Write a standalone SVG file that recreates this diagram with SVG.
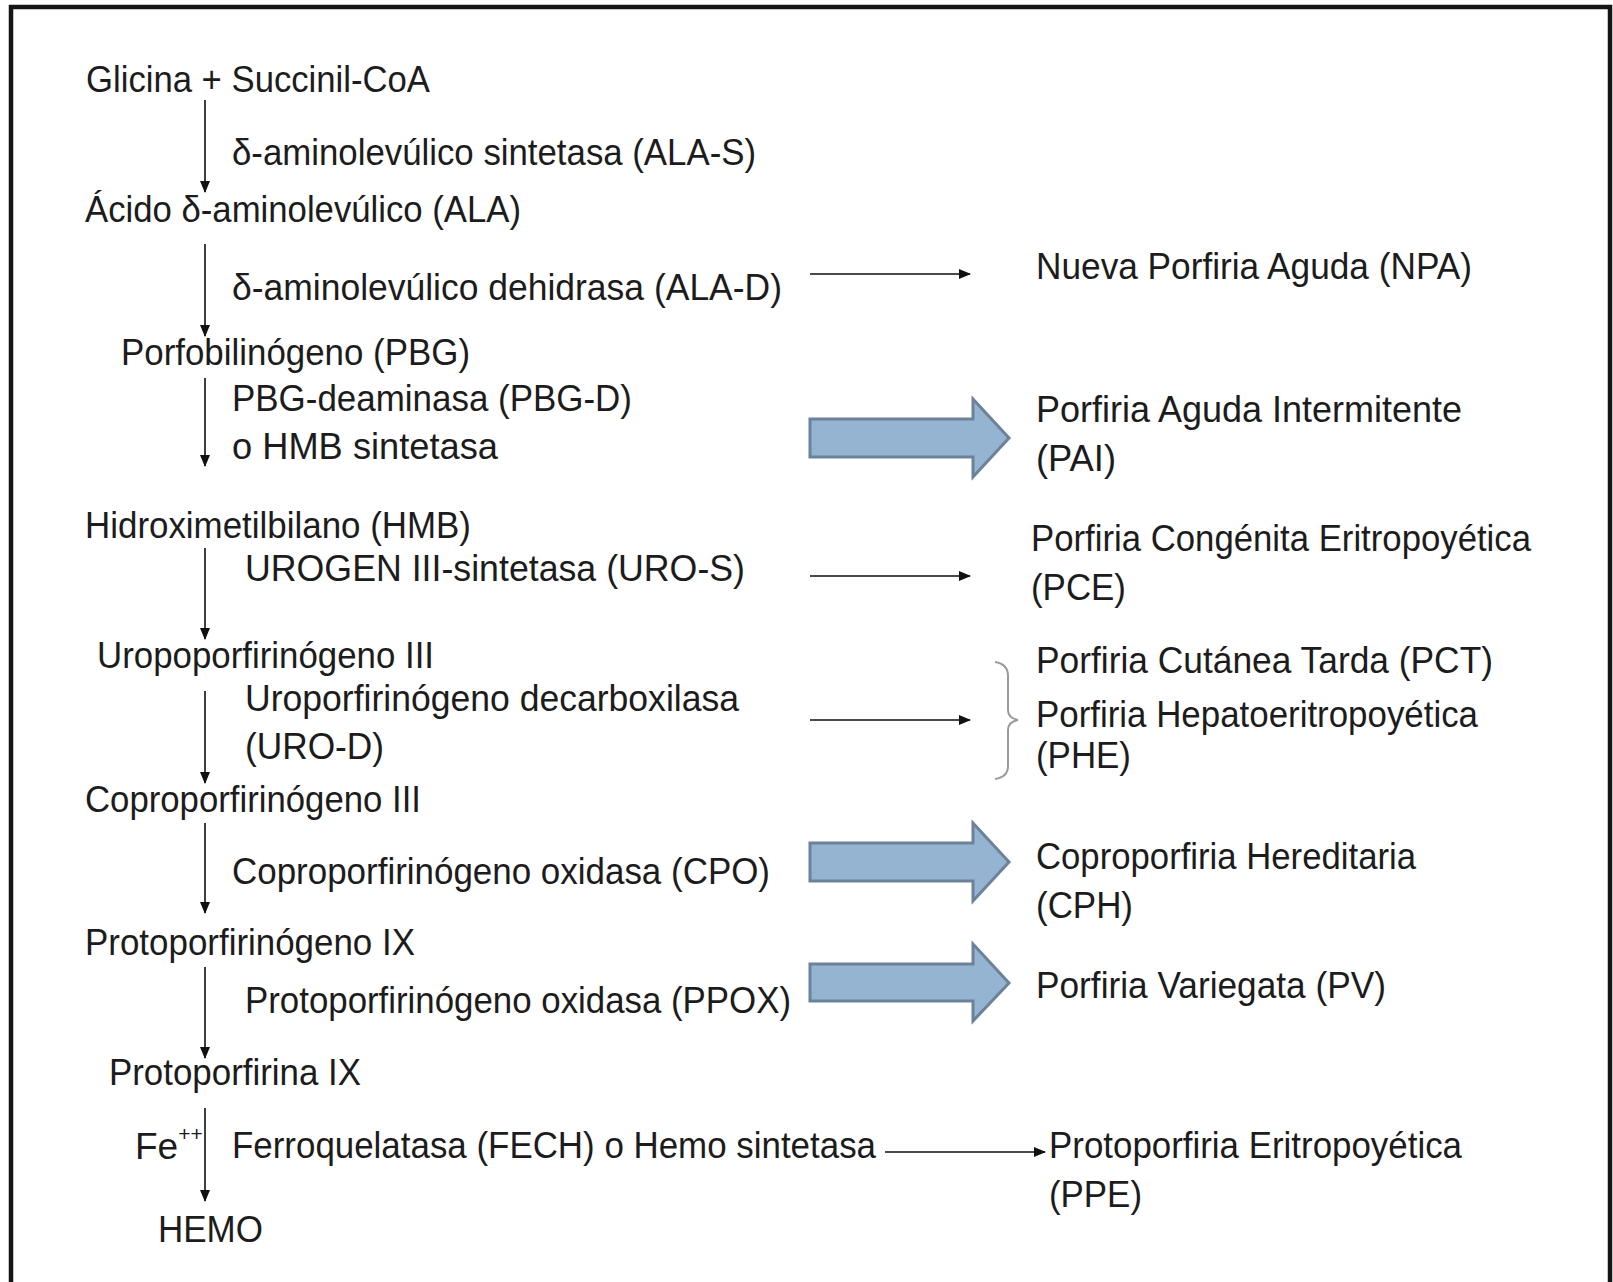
<svg xmlns="http://www.w3.org/2000/svg" width="1613" height="1282" viewBox="0 0 1613 1282">
<defs>
<style>
text{font-family:"Liberation Sans",Arial,sans-serif;font-size:37px;fill:#1c1c1c}
.sup{font-size:21px}
.v{stroke:#2a2a2a;stroke-width:1.8;fill:none}
.h{stroke:#4a4a4a;stroke-width:2;fill:none}
.blk{fill:#94b4d2;stroke:#6b8299;stroke-width:3;stroke-linejoin:miter}
.brace{fill:none;stroke:#9a9a9a;stroke-width:2}
</style>
<marker id="ah" markerUnits="userSpaceOnUse" markerWidth="12" markerHeight="12" viewBox="0 0 12 12" refX="11" refY="6" orient="auto">
<path d="M0,1 L12,6 L0,11 Z" fill="#111"/>
</marker>
</defs>
<rect width="1613" height="1282" fill="#fff"/>
<path d="M11,1282 V7 H1610 V1282" fill="none" stroke="#151515" stroke-width="4.5"/>

<g id="connectors">
<line class="v" x1="205" y1="100" x2="205" y2="192" marker-end="url(#ah)"/>
<line class="v" x1="205" y1="244" x2="205" y2="336" marker-end="url(#ah)"/>
<line class="v" x1="205" y1="378" x2="205" y2="466" marker-end="url(#ah)"/>
<line class="v" x1="205" y1="548" x2="205" y2="639" marker-end="url(#ah)"/>
<line class="v" x1="205" y1="691" x2="205" y2="783" marker-end="url(#ah)"/>
<line class="v" x1="205" y1="823" x2="205" y2="913" marker-end="url(#ah)"/>
<line class="v" x1="205" y1="967" x2="205" y2="1058" marker-end="url(#ah)"/>
<line class="v" x1="205" y1="1108" x2="205" y2="1201" marker-end="url(#ah)"/>
<line class="h" x1="810" y1="274" x2="970" y2="274" marker-end="url(#ah)"/>
<line class="h" x1="810" y1="576" x2="970" y2="576" marker-end="url(#ah)"/>
<line class="h" x1="810" y1="720" x2="970" y2="720" marker-end="url(#ah)"/>
<line class="h" x1="885" y1="1152" x2="1045" y2="1152" marker-end="url(#ah)"/>
<path class="blk" d="M810,419 H973 V399 L1009,438 L973,477 V457 H810 Z"/>
<path class="blk" d="M810,843 H973 V823 L1009,862 L973,901 V881 H810 Z"/>
<path class="blk" d="M810,964 H973 V944 L1009,983 L973,1021 V1001 H810 Z"/>
<path class="brace" d="M995,662 Q1008,664 1008,676 V710 Q1008,718 1018,720 Q1008,722 1008,730 V766 Q1008,777 995,779"/>
</g>

<g id="n-glicina"><text x="86" y="92" textLength="344" lengthAdjust="spacingAndGlyphs">Glicina + Succinil-CoA</text></g>
<g id="e-alas"><text x="232" y="165" textLength="524" lengthAdjust="spacingAndGlyphs">δ-aminolevúlico sintetasa (ALA-S)</text></g>
<g id="n-ala"><text x="85" y="222" textLength="436" lengthAdjust="spacingAndGlyphs">Ácido δ-aminolevúlico (ALA)</text></g>
<g id="e-alad"><text x="232" y="300" textLength="550" lengthAdjust="spacingAndGlyphs">δ-aminolevúlico dehidrasa  (ALA-D)</text></g>
<g id="n-pbg"><text x="121" y="365" textLength="349" lengthAdjust="spacingAndGlyphs">Porfobilinógeno (PBG)</text></g>
<g id="e-pbgd"><text x="232" y="411" textLength="400" lengthAdjust="spacingAndGlyphs">PBG-deaminasa (PBG-D)</text><text x="232" y="459" textLength="266" lengthAdjust="spacingAndGlyphs">o  HMB sintetasa</text></g>
<g id="n-hmb"><text x="85" y="538" textLength="386" lengthAdjust="spacingAndGlyphs">Hidroximetilbilano (HMB)</text></g>
<g id="e-uros"><text x="245" y="581" textLength="500" lengthAdjust="spacingAndGlyphs">UROGEN III-sintetasa  (URO-S)</text></g>
<g id="n-urogen"><text x="97" y="668" textLength="337" lengthAdjust="spacingAndGlyphs">Uropoporfirinógeno III</text></g>
<g id="e-urod"><text x="245" y="711" textLength="494" lengthAdjust="spacingAndGlyphs">Uroporfirinógeno  decarboxilasa</text><text x="245" y="759" textLength="139" lengthAdjust="spacingAndGlyphs">(URO-D)</text></g>
<g id="n-coprogen"><text x="85" y="812" textLength="336" lengthAdjust="spacingAndGlyphs">Coproporfirinógeno III</text></g>
<g id="e-cpo"><text x="232" y="884" textLength="538" lengthAdjust="spacingAndGlyphs">Coproporfirinógeno oxidasa (CPO)</text></g>
<g id="n-protogen"><text x="85" y="955" textLength="330" lengthAdjust="spacingAndGlyphs">Protoporfirinógeno IX</text></g>
<g id="e-ppox"><text x="245" y="1013" textLength="546" lengthAdjust="spacingAndGlyphs">Protoporfirinógeno oxidasa (PPOX)</text></g>
<g id="n-proto"><text x="109" y="1085" textLength="252" lengthAdjust="spacingAndGlyphs">Protoporfirina IX</text></g>
<g id="n-fe"><text x="135" y="1159">Fe<tspan class="sup" dy="-18">++</tspan></text></g>
<g id="e-fech"><text x="232" y="1158" textLength="644" lengthAdjust="spacingAndGlyphs">Ferroquelatasa (FECH) o Hemo sintetasa</text></g>
<g id="n-hemo"><text x="158" y="1242" textLength="105" lengthAdjust="spacingAndGlyphs">HEMO</text></g>

<g id="d-npa"><text x="1036" y="279" textLength="436" lengthAdjust="spacingAndGlyphs">Nueva Porfiria Aguda (NPA)</text></g>
<g id="d-pai"><text x="1036" y="422" textLength="426" lengthAdjust="spacingAndGlyphs">Porfiria Aguda  Intermitente</text><text x="1036" y="471" textLength="80" lengthAdjust="spacingAndGlyphs">(PAI)</text></g>
<g id="d-pce"><text x="1031" y="551" textLength="500" lengthAdjust="spacingAndGlyphs">Porfiria Congénita Eritropoyética</text><text x="1031" y="600" textLength="95" lengthAdjust="spacingAndGlyphs">(PCE)</text></g>
<g id="d-pct"><text x="1036" y="673" textLength="457" lengthAdjust="spacingAndGlyphs">Porfiria Cutánea Tarda (PCT)</text></g>
<g id="d-phe"><text x="1036" y="727" textLength="442" lengthAdjust="spacingAndGlyphs">Porfiria Hepatoeritropoyética</text><text x="1036" y="768" textLength="95" lengthAdjust="spacingAndGlyphs">(PHE)</text></g>
<g id="d-cph"><text x="1036" y="869" textLength="380" lengthAdjust="spacingAndGlyphs">Coproporfiria Hereditaria</text><text x="1036" y="918" textLength="97" lengthAdjust="spacingAndGlyphs">(CPH)</text></g>
<g id="d-pv"><text x="1036" y="998" textLength="350" lengthAdjust="spacingAndGlyphs">Porfiria Variegata (PV)</text></g>
<g id="d-ppe"><text x="1049" y="1158" textLength="413" lengthAdjust="spacingAndGlyphs">Protoporfiria Eritropoyética</text><text x="1049" y="1207" textLength="93" lengthAdjust="spacingAndGlyphs">(PPE)</text></g>
</svg>
